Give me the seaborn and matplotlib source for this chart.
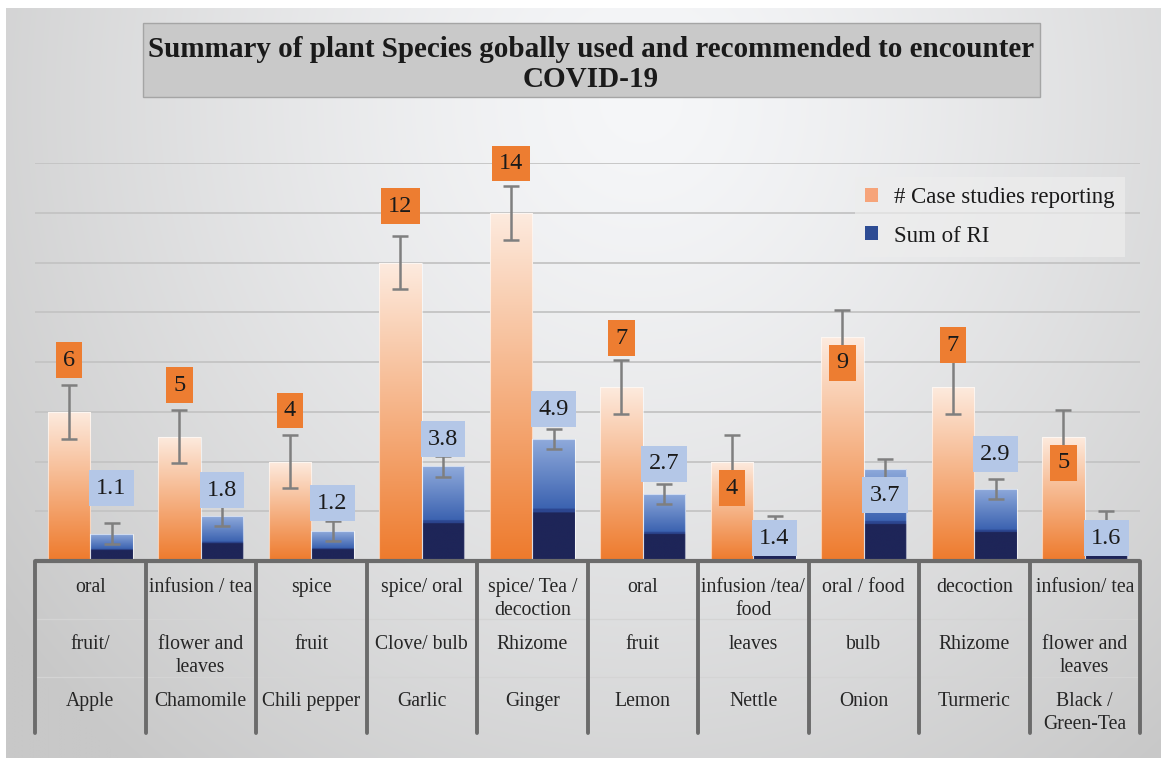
import numpy as np
import pandas as pd
import matplotlib
matplotlib.use("Agg")
import matplotlib.pyplot as plt
import seaborn as sns
from matplotlib.colors import to_rgb
from matplotlib.patches import Rectangle, Patch
from matplotlib.lines import Line2D
from matplotlib.transforms import blended_transform_factory

# ---------------- data ----------------
plants = ["Apple", "Chamomile", "Chili pepper", "Garlic", "Ginger", "Lemon",
          "Nettle", "Onion", "Turmeric", "Black /\nGreen-Tea"]
usage = ["oral", "infusion / tea", "spice", "spice/ oral", "spice/ Tea /\ndecoction",
         "oral", "infusion /tea/\nfood", "oral / food", "decoction", "infusion/ tea"]
parts = ["fruit/", "flower and\nleaves", "fruit", "Clove/ bulb", "Rhizome",
         "fruit", "leaves", "bulb", "Rhizome", "flower and\nleaves"]
case_studies = [6, 5, 4, 12, 14, 7, 4, 9, 7, 5]
sum_ri = [1.1, 1.8, 1.2, 3.8, 4.9, 2.7, 1.4, 3.7, 2.9, 1.6]
series_names = ["# Case studies reporting", "Sum of RI"]
title_lines = ["Summary of plant Species gobally used and recommended to encounter", "COVID-19"]

# label placement offsets (style, in value units)
case_label_off = [2.08, 2.07, 2.05, 2.27, 1.98, 1.96, -1.07, -1.04, 1.68, -1.06]
ri_label_off = [1.83, 1.05, 1.13, 1.10, 1.21, 1.20, -0.48, -1.05, 1.40, -0.68]

W, H = 1164, 761
sns.set_style("white")
plt.rcParams["font.family"] = ["Liberation Serif", "DejaVu Serif"]

fig = plt.figure(figsize=(W / 100, H / 100), dpi=100)
fig.patch.set_facecolor("white")

# ---------- background gradient ----------
bg = fig.add_axes([0, 0, 1, 1], zorder=-10)
bg.axis("off")
yy, xx = np.mgrid[0:1:300j, 0:1:450j]
r = np.sqrt(((xx - 0.55) / 0.70) ** 2 + ((yy - 0.12) / 1.15) ** 2)
t = np.clip(r, 0, 1) ** 1.3
light = np.array(to_rgb("#f6f7f9"))
dark = np.array(to_rgb("#c8c8c8"))
img = light[None, None, :] * (1 - t[..., None]) + dark[None, None, :] * t[..., None]
bg.set_xlim(0, W)
bg.set_ylim(H, 0)
bg.imshow(img, extent=(6, 1161, 758, 8), aspect="auto", interpolation="bilinear")
bg.set_xlim(0, W)
bg.set_ylim(H, 0)

def fx(px):
    return px / W

def fy(py):
    return 1 - py / H

# ---------- title ----------
fig.add_artist(Rectangle((fx(143), fy(97)), (1040 - 143) / W, 74 / H,
                         transform=fig.transFigure, fc="#c9c9c9", ec="#a5a5a5", lw=1))
fig.text(fx(591), fy(57), title_lines[0], ha="center", va="baseline",
         fontsize=21, fontweight="bold", color="#1a1a1a")
fig.text(fx(591), fy(87), title_lines[1], ha="center", va="baseline",
         fontsize=21, fontweight="bold", color="#1a1a1a")

# ---------- main axes ----------
ax = fig.add_axes([fx(35), fy(561), 1105 / W, 398 / H])
ax.patch.set_alpha(0)

df = pd.DataFrame({
    "plant": plants * 2,
    "value": case_studies + sum_ri,
    "series": [series_names[0]] * len(plants) + [series_names[1]] * len(plants),
})
sns.barplot(data=df, x="plant", y="value", hue="series",
            palette=["#F4A370", "#3A5AA8"], width=0.77, errorbar=None,
            saturation=1, ax=ax, legend=False)

# gradients
N = 256
fr = np.linspace(0, 1, N)[:, None]
o_bot, o_top = np.array(to_rgb("#EE7A2C")), np.array(to_rgb("#FDEBDF"))
orange_grad = (o_bot * (1 - fr) + o_top * fr)[:, None, :]
navy = np.array(to_rgb("#1E2558"))
b_lo, b_hi = np.array(to_rgb("#3B62B0")), np.array(to_rgb("#8FAADB"))
blue_rows = []
for f in fr[:, 0]:
    if f < 0.40:
        blue_rows.append(navy)
    elif f < 0.43:
        blue_rows.append(np.array(to_rgb("#2C4690")))
    else:
        u = (f - 0.43) / 0.57
        blue_rows.append(b_lo * (1 - u) + b_hi * u)
blue_grad = np.array(blue_rows)[:, None, :]

centers = [[], []]
for ci, cont in enumerate(ax.containers):
    grad = orange_grad if ci == 0 else blue_grad
    for bar in cont:
        x0, w, h = bar.get_x(), bar.get_width(), bar.get_height()
        centers[ci].append(x0 + w / 2)
        im = ax.imshow(grad, extent=(x0, x0 + w, 0, h), origin="lower",
                       aspect="auto", interpolation="bilinear", zorder=1.5)
        im.set_clip_path(bar)
        bar.set_facecolor("none")
        bar.set_edgecolor((1, 1, 1, 0.6))
        bar.set_linewidth(0.8)
        bar.set_zorder(1.6)

ax.set_xlim(-0.5, len(plants) - 0.5)
ax.set_ylim(0, 16)
ax.set_yticks(range(2, 17, 2))
ax.yaxis.grid(True, color="#c4c4c4", lw=1.3)
ax.xaxis.grid(False)
ax.set_axisbelow(True)
ax.tick_params(length=0, labelleft=False, labelbottom=False)
ax.set_xlabel("")
ax.set_ylabel("")
for s in ax.spines.values():
    s.set_visible(False)

# error bars (standard error)
se_case = np.std(case_studies, ddof=1) / np.sqrt(len(case_studies))
se_ri = np.std(sum_ri, ddof=1) / np.sqrt(len(sum_ri))
ax.errorbar(centers[0], case_studies, yerr=se_case, fmt="none", ecolor="#7f7f7f",
            elinewidth=1.8, capsize=5.5, capthick=1.8, zorder=3)
ax.errorbar(centers[1], sum_ri, yerr=se_ri, fmt="none", ecolor="#7f7f7f",
            elinewidth=1.8, capsize=5.5, capthick=1.8, zorder=3)

# data labels
for x, v, off in zip(centers[0], case_studies, case_label_off):
    ax.text(x, v + off, f"{v:d}", ha="center", va="center", fontsize=17.5,
            color="#1a1a1a", zorder=4, clip_on=False,
            bbox=dict(boxstyle="square,pad=0.3", fc="#ED7D31", ec="none"))
for x, v, off in zip(centers[1], sum_ri, ri_label_off):
    ax.text(x, v + off, f"{v:.1f}", ha="center", va="center", fontsize=17.5,
            color="#1a1a1a", zorder=4, clip_on=False,
            bbox=dict(boxstyle="square,pad=0.3", fc="#B4C7E7", ec="none"))

# baseline
ax.plot([-0.5, len(plants) - 0.5], [0, 0], color="#6b6b6b", lw=3,
        zorder=5, clip_on=False, solid_capstyle="butt")

# ---------- data table below ----------
trans = blended_transform_factory(ax.transData, fig.transFigure)
for yline in (619, 677):
    ax.add_line(Line2D([-0.5, len(plants) - 0.5], [fy(yline), fy(yline)],
                       transform=trans, color="#d4d4d4", lw=0.9, clip_on=False))
for b in np.arange(-0.5, len(plants), 1.0):
    ax.add_line(Line2D([b, b], [fy(561), fy(733)], transform=trans,
                       color="#6b6b6b", lw=2.8, clip_on=False))
row_tops = [578, 635, 692]
for i in range(len(plants)):
    for rows, top in zip((usage, parts, plants), row_tops):
        ax.text(i, fy(top), rows[i], transform=trans, ha="center", va="top",
                fontsize=14.2, color="#262626", clip_on=False, linespacing=1.28)

# ---------- legend ----------
handles = [Patch(fc="#F6A47A", ec="none"), Patch(fc="#2E4C94", ec="none")]
fig.legend(handles, series_names, loc="upper left",
           bbox_to_anchor=(fx(855), fy(177)), borderaxespad=0, frameon=True,
           facecolor="#ededed", edgecolor="none", framealpha=0.7, fontsize=16.5,
           handlelength=0.55, handleheight=0.55, handletextpad=0.7,
           labelspacing=0.75, borderpad=0.45, fancybox=False, labelcolor="#1a1a1a")

fig.savefig("out.png", dpi=100)
